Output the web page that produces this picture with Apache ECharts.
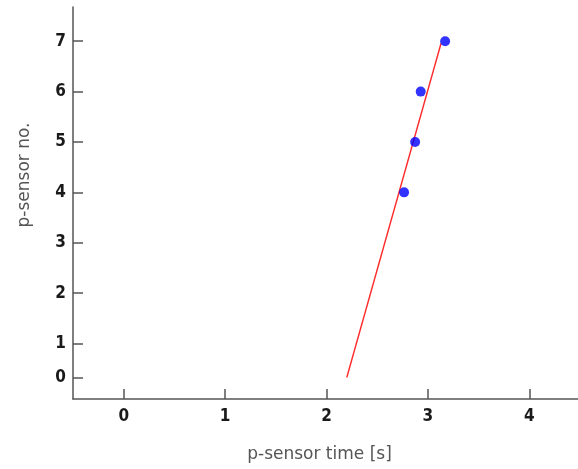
<!DOCTYPE html>
<html>
<head>
<meta charset="utf-8">
<script src="https://cdn.jsdelivr.net/npm/echarts@6/dist/echarts.min.js"></script>
<style>
html,body{margin:0;padding:0;overflow:hidden;background:#fff;}
#c{width:580px;height:469px;}
</style>
</head>
<body>
<div id="c"></div>
<script>
// Data
var sensorTimes = [2.765, 2.874, 2.929, 3.17];
var sensorNos = [4, 5, 6, 7];
// vertical positions used for sensor ticks (sensor 0 sits closer to sensor 1)
var sensorTickPositions = [0.325, 1, 2, 3, 4, 5, 6, 7];
var sensorTickLabels = ['0', '1', '2', '3', '4', '5', '6', '7'];
var xTicks = [0, 1, 2, 3, 4];
var fitTimes = [2.2, 3.13];
var fitPositions = [0.325, 6.96];

var points = sensorTimes.map(function (t, i) { return [t, sensorNos[i]]; });
var fitLine = fitTimes.map(function (t, i) { return [t, fitPositions[i]]; });

var chart = echarts.init(document.getElementById('c'), null, {renderer: 'canvas'});
var labelFont = {color: '#1a1a1a', fontSize: 17, fontWeight: 'bold', fontFamily: '"Liberation Sans Narrow", "DejaVu Sans Condensed", sans-serif'};
var nameFont = {color: '#555', fontSize: 17, fontFamily: '"DejaVu Sans", sans-serif'};
chart.setOption({
  animation: false,
  grid: {left: 73, top: 7, right: 0, bottom: 70, containLabel: false},
  xAxis: {
    type: 'value', min: -0.5, max: 4.5,
    name: 'p-sensor time [s]', nameLocation: 'middle', nameGap: 47,
    nameTextStyle: Object.assign({padding: [0, 14, 0, 0]}, nameFont),
    axisLine: {show: true, onZero: false, lineStyle: {color: '#555', width: 1.5}},
    axisTick: {show: true, inside: true, length: 10, customValues: xTicks, lineStyle: {color: '#555', width: 1.5}},
    axisLabel: Object.assign({customValues: xTicks, margin: 9}, labelFont),
    splitLine: {show: false}
  },
  yAxis: {
    type: 'value', min: -0.103, max: 7.68,
    axisLine: {show: true, onZero: false, lineStyle: {color: '#555', width: 1.5}},
    axisTick: {show: true, inside: true, length: 10, customValues: sensorTickPositions, lineStyle: {color: '#555', width: 1.5}},
    axisLabel: Object.assign({
      customValues: sensorTickPositions, margin: 7,
      formatter: function (v) {
        for (var i = 0; i < sensorTickPositions.length; i++) {
          if (Math.abs(sensorTickPositions[i] - v) < 1e-6) return sensorTickLabels[i];
        }
        return '';
      }
    }, labelFont),
    splitLine: {show: false}
  },
  graphic: [{
    type: 'text', x: 25, y: 175, rotation: Math.PI / 2,
    style: {text: 'p-sensor no.', fill: nameFont.color, align: 'center', verticalAlign: 'middle', fontSize: nameFont.fontSize, fontFamily: nameFont.fontFamily}
  }],
  series: [
    {type: 'line', data: fitLine, symbol: 'none', lineStyle: {color: '#ff2a2a', width: 1.4}, z: 2},
    {type: 'scatter', data: points, symbol: 'circle', symbolSize: 10, itemStyle: {color: '#0000ff'}, z: 3}
  ]
});
</script>
</body>
</html>
